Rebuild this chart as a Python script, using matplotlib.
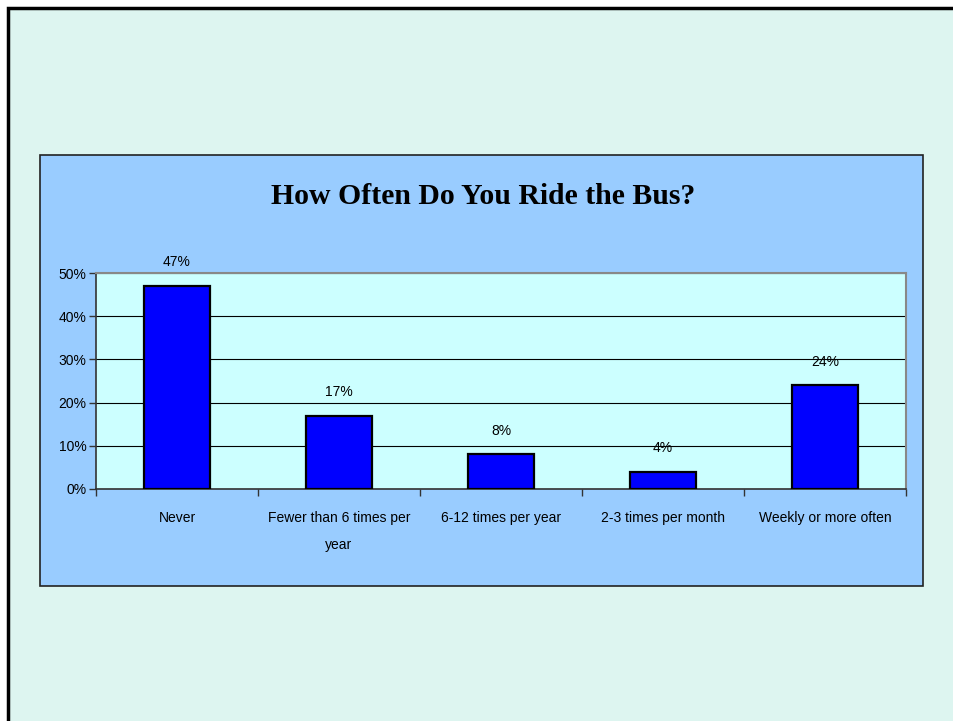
import matplotlib
matplotlib.use("Agg")
import matplotlib.pyplot as plt
from matplotlib.patches import Rectangle
import numpy as np

categories = ["Never", "Fewer than 6 times per\nyear", "6-12 times per year",
              "2-3 times per month", "Weekly or more often"]
values = [47, 17, 8, 4, 24]
yticks = [0, 10, 20, 30, 40, 50]
title = "How Often Do You Ride the Bus?"

W, H = 954, 721
fig = plt.figure(figsize=(W / 100, H / 100), dpi=100)
fig.patch.set_facecolor("white")

def fx(px):
    return px / W

def fy(py):
    return 1 - py / H

# slide background
fig.patches.append(Rectangle((fx(8), fy(760)), fx(1000) - fx(8), fy(8) - fy(760),
                             transform=fig.transFigure, facecolor="#DDF5F0",
                             edgecolor="black", linewidth=2.5, zorder=-2))
# chart area
fig.patches.append(Rectangle((fx(40), fy(586)), fx(923) - fx(40), fy(155) - fy(586),
                             transform=fig.transFigure, facecolor="#99CCFF",
                             edgecolor="#222222", linewidth=1.2, zorder=-1))

ax = fig.add_axes([fx(96), fy(489), fx(906) - fx(96), fy(273) - fy(489)])
ax.set_zorder(2)
ax.set_facecolor("#CCFFFF")
x = np.arange(len(categories))
ax.bar(x, values, width=0.41, color="#0000FF", edgecolor="black", linewidth=1.6, zorder=3)
ax.set_xlim(-0.5, len(categories) - 0.5)
ax.set_ylim(0, 50)
ax.set_yticks(yticks)
ax.set_yticklabels([f"{t}%" for t in yticks], fontsize=10, family="Liberation Sans")
ax.yaxis.grid(True, color="black", linewidth=0.8, zorder=0)
ax.set_axisbelow(True)

ax.set_xticks(x)
ax.set_xticklabels(categories, fontsize=10, family="Liberation Sans", linespacing=2.2)
ax.set_xticks(np.arange(-0.5, len(categories)), minor=True)
ax.tick_params(axis="x", which="major", length=0, pad=16)
ax.tick_params(axis="x", which="minor", length=5, direction="out", width=1, color="#333333")
ax.tick_params(axis="y", length=5, direction="out", width=1, color="#333333", pad=2)

for s in ["left", "bottom"]:
    ax.spines[s].set_color("#333333")
    ax.spines[s].set_linewidth(1.2)
for s in ["top", "right"]:
    ax.spines[s].set_color("#888888")
    ax.spines[s].set_linewidth(1.5)

for xi, v in zip(x, values):
    ax.annotate(f"{v}%", (xi, v), xytext=(0, 12), textcoords="offset points",
                ha="center", va="bottom", fontsize=10, family="Liberation Sans")

fig.text(fx(483), fy(196), title, ha="center", va="center", fontsize=21.4,
         fontweight="bold", family="Liberation Serif")

fig.savefig("out.png", dpi=100, facecolor=fig.get_facecolor())
